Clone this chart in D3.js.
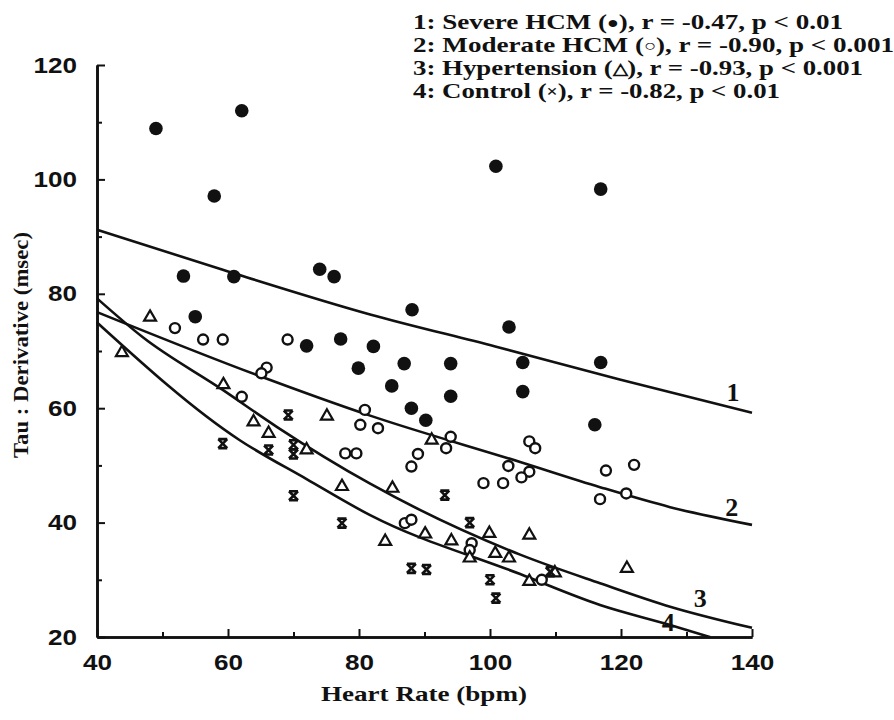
<!DOCTYPE html>
<html>
<head>
<meta charset="utf-8">
<script src="https://cdn.jsdelivr.net/npm/d3@7/dist/d3.min.js"></script>
<style>
  html, body { margin: 0; padding: 0; background: #fff; }
  svg { display: block; }
</style>
</head>
<body>
<svg id="chart" width="894" height="720"></svg>
<script>
// Heart rate (bpm) vs Tau (msec) for each patient group, [HR, tau]
const severeHCM = [
  [49, 108.9], [62.1, 112.0], [57.9, 97.1], [53.2, 83.1], [60.9, 83.0],
  [74.0, 84.3], [76.2, 83.0], [55.0, 76.0], [72.0, 70.9], [77.2, 72.1],
  [82.2, 70.8], [79.9, 67.0], [100.9, 102.3], [116.9, 98.3], [88.1, 77.2],
  [102.9, 74.2], [86.9, 67.8], [94.0, 67.8], [105.0, 68.0], [116.9, 68.0],
  [85.0, 63.9], [94.0, 62.1], [105.0, 62.9], [88.0, 60.0], [90.2, 57.9],
  [116.0, 57.1]
];
const moderateHCM = [
  [51.9, 74.0], [56.2, 72.0], [59.2, 72.0], [69.1, 72.0], [65.9, 67.1],
  [65.1, 66.1], [62.1, 62.0], [80.9, 59.7], [80.2, 57.1], [82.9, 56.5],
  [77.9, 52.1], [79.6, 52.1], [94.0, 55.0], [93.3, 53.0], [89.0, 52.0],
  [88.0, 49.8], [106.0, 54.2], [106.9, 53.0], [102.8, 49.9], [106.0, 48.9],
  [104.8, 47.9], [99.0, 46.9], [102.0, 46.9], [117.7, 49.1], [122.0, 50.1],
  [116.8, 44.1], [120.8, 45.1], [87.0, 39.9], [88.0, 40.5], [97.2, 36.4],
  [96.9, 35.2], [107.9, 30.0]
];
const hypertension = [
  [48.1, 75.9], [43.8, 69.7], [59.3, 64.1], [75.1, 58.6], [63.9, 57.6],
  [66.2, 55.6], [72.0, 52.7], [77.4, 46.3], [91.1, 54.4], [85.1, 46.0],
  [84.0, 36.7], [90.1, 38.0], [94.1, 36.8], [96.9, 33.8], [99.9, 38.1],
  [100.8, 34.6], [102.9, 33.8], [106.0, 37.8], [120.9, 32.0], [106.0, 29.7],
  [109.9, 31.2]
];
const control = [
  [59.2, 53.8], [69.2, 58.8], [66.2, 52.7], [70.0, 53.6], [70.0, 52.0],
  [70.0, 44.7], [77.4, 39.9], [93.1, 44.8], [96.9, 40.0], [88.0, 32.0],
  [90.3, 31.8], [100.0, 30.0], [100.9, 26.8], [109.2, 31.4]
];

// Regression curves for groups 1-4, read as points along each fit
const fit1 = [[40, 91.2], [59.2, 84.2], [81.7, 76.4], [100.8, 70.8], [119.8, 65.0], [140, 59.2]];
const fit2 = [[40, 76.8], [64.4, 65.8], [81.7, 58.7], [104.6, 50.6], [116.8, 46.2], [127.5, 42.7], [140, 39.6]];
const fit3 = [[40, 79.2], [47, 72.4], [59.2, 63.2], [67.5, 56.7], [81.7, 46.8], [104.6, 34.4], [116.8, 29.4], [127.5, 25.3], [140, 21.6]];
const fit4 = [[40, 75.0], [61.8, 54.4], [72, 47.6], [81.7, 41.3], [104.6, 31.0], [116.8, 25.6], [127.5, 22.1], [133.6, 20]];
const fitLabels = [["1", 137.1, 62.7], ["2", 136.9, 42.7], ["3", 132.1, 26.8], ["4", 127.2, 22.6]];

// Legend lines: text before the symbol, the symbol, text after it
const legendLines = [
  ["1: Severe HCM (", "\u25CF", "), r = -0.47, p < 0.01"],
  ["2: Moderate HCM (", "\u25CB", "), r = -0.90, p < 0.001"],
  ["3: Hypertension (", "\u25B3", "), r = -0.93, p < 0.001"],
  ["4: Control (", "\u00D7", "), r = -0.82, p < 0.01"]
];
const legendWidths = [430, 481, 450, 367];

const xMajor = [40, 60, 80, 100, 120, 140];
const xMinor = [50, 70, 90, 110, 130];
const yMajor = [20, 40, 60, 80, 100, 120];
const yMinor = [30, 50, 70, 90, 110];

const ink = "#111";
const serif = "'Liberation Serif', 'Times New Roman', serif";
const sans = "'Liberation Sans', Arial, sans-serif";

const svg = d3.select("#chart");
const x = d3.scaleLinear().domain([40, 140]).range([97, 752]);
const y = d3.scaleLinear().domain([20, 120]).range([637, 65]);

// Axes: ticks point into the plot
function styleAxis(g) {
  g.select(".domain").attr("stroke", ink).attr("stroke-width", 2.6);
  g.selectAll(".tick line").attr("stroke", ink).attr("stroke-width", 2);
  g.selectAll(".tick text")
    .attr("fill", ink)
    .attr("font-family", sans)
    .attr("font-weight", "bold")
    .attr("font-size", 22)
    .attr("textLength", function () { return this.textContent.length * 14.5; })
    .attr("lengthAdjust", "spacingAndGlyphs");
}

svg.append("g")
  .attr("transform", `translate(0,${y(20)})`)
  .call(d3.axisBottom(x).tickValues(xMinor).tickSize(-5).tickSizeOuter(0).tickFormat(""))
  .call(styleAxis);
svg.append("g")
  .attr("transform", `translate(0,${y(20)})`)
  .call(d3.axisBottom(x).tickValues(xMajor).tickSize(-8).tickSizeOuter(0).tickPadding(17))
  .call(styleAxis);

svg.append("g")
  .attr("transform", `translate(${x(40)},0)`)
  .call(d3.axisLeft(y).tickValues(yMinor).tickSize(-5).tickSizeOuter(0).tickFormat(""))
  .call(styleAxis);
svg.append("g")
  .attr("transform", `translate(${x(40)},0)`)
  .call(d3.axisLeft(y).tickValues(yMajor).tickSize(-8).tickSizeOuter(0).tickPadding(20))
  .call(styleAxis);

// Axis titles
svg.append("text")
  .attr("x", 424).attr("y", 701)
  .attr("text-anchor", "middle")
  .attr("font-family", serif).attr("font-weight", "bold").attr("font-size", 22)
  .attr("textLength", 206).attr("lengthAdjust", "spacingAndGlyphs")
  .attr("fill", ink)
  .text("Heart Rate (bpm)");

svg.append("text")
  .attr("transform", `translate(28,${345}) rotate(-90)`)
  .attr("text-anchor", "middle")
  .attr("font-family", serif).attr("font-weight", "bold").attr("font-size", 22)
  .attr("textLength", 226).attr("lengthAdjust", "spacingAndGlyphs")
  .attr("fill", ink)
  .text("Tau : Derivative (msec)");

// Fitted curves
const line = d3.line().x(d => x(d[0])).y(d => y(d[1])).curve(d3.curveMonotoneX);
[fit1, fit2, fit3, fit4].forEach(f => {
  svg.append("path")
    .attr("d", line(f))
    .attr("fill", "none")
    .attr("stroke", ink)
    .attr("stroke-width", 2.6);
});

svg.selectAll("text.fitlabel")
  .data(fitLabels)
  .join("text")
  .attr("class", "fitlabel")
  .attr("x", d => x(d[1])).attr("y", d => y(d[2]))
  .attr("text-anchor", "middle").attr("dominant-baseline", "central")
  .attr("font-family", serif).attr("font-weight", "bold").attr("font-size", 26)
  .attr("fill", ink)
  .text(d => d[0]);

// Markers
const pts = svg.append("g");

pts.selectAll("circle.filled")
  .data(severeHCM)
  .join("circle")
  .attr("class", "filled")
  .attr("cx", d => x(d[0])).attr("cy", d => y(d[1]))
  .attr("r", 6.8)
  .attr("fill", ink);

pts.selectAll("circle.open")
  .data(moderateHCM)
  .join("circle")
  .attr("class", "open")
  .attr("cx", d => x(d[0])).attr("cy", d => y(d[1]))
  .attr("r", 5)
  .attr("fill", "#fff")
  .attr("stroke", ink).attr("stroke-width", 2.4);

const tri = d3.symbol().type(d3.symbolTriangle).size(62);
pts.selectAll("path.tri")
  .data(hypertension)
  .join("path")
  .attr("class", "tri")
  .attr("d", tri)
  .attr("transform", d => `translate(${x(d[0])},${y(d[1])})`)
  .attr("fill", "#fff")
  .attr("stroke", ink).attr("stroke-width", 2.2);

const cr = 4.5;
pts.selectAll("path.cross")
  .data(control)
  .join("path")
  .attr("class", "cross")
  .attr("d", `M${-cr},${-cr}L${cr},${cr}M${cr},${-cr}L${-cr},${cr}M${-cr},${-cr}L${cr},${-cr}M${-cr},${cr}L${cr},${cr}`)
  .attr("transform", d => `translate(${x(d[0])},${y(d[1])})`)
  .attr("fill", "none")
  .attr("stroke", ink).attr("stroke-width", 2.6);

// Legend
const legend = svg.selectAll("text.legend")
  .data(legendLines)
  .join("text")
  .attr("class", "legend")
  .attr("x", 413)
  .attr("y", (d, i) => 29 + i * 23)
  .attr("font-family", serif).attr("font-weight", "bold").attr("font-size", 22)
  .attr("textLength", (d, i) => legendWidths[i])
  .attr("lengthAdjust", "spacingAndGlyphs")
  .attr("fill", ink);
legend.append("tspan").text(d => d[0]);
legend.append("tspan").attr("font-size", 16).attr("dy", -1).text(d => d[1]);
legend.append("tspan").attr("dy", 1).text(d => d[2]);
</script>
</body>
</html>
